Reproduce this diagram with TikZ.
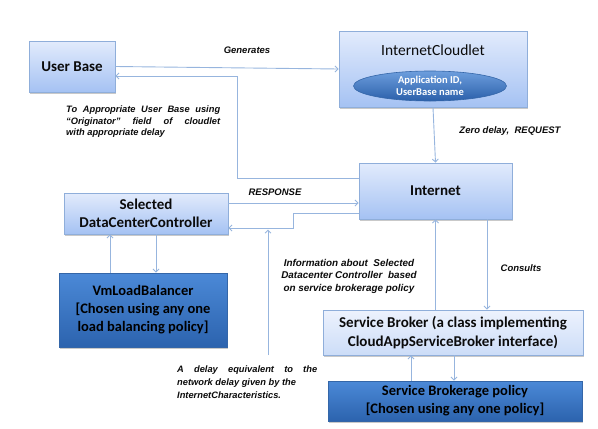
\documentclass[tikz,border=0pt]{standalone}
\usepackage{fontspec}
\setmainfont{Liberation Sans}
\newfontfamily\calib{Carlito}
\usetikzlibrary{arrows.meta,shadows,shapes.geometric}
\definecolor{ink}{HTML}{0B0B0B}
\definecolor{linec}{HTML}{97B5DE}
\definecolor{lborder}{HTML}{8FAEDA}
\definecolor{ltop}{HTML}{E2EBFC}
\definecolor{lbot}{HTML}{A5C2F3}
\definecolor{sbtop}{HTML}{EDF2FD}
\definecolor{sbbot}{HTML}{CCDDF8}
\definecolor{dtop}{HTML}{4B89D7}
\definecolor{dbot}{HTML}{2C63AE}
\definecolor{dborder}{HTML}{3466A8}
\definecolor{etop}{HTML}{6D9EDD}
\definecolor{ebot}{HTML}{2B60AA}
\tikzset{
  box/.style={rectangle,inner sep=0pt,align=center,text=ink,
    drop shadow={shadow xshift=1.2pt,shadow yshift=-1.5pt,opacity=0.3,fill=black!70}},
  lightbox/.style={box,draw=lborder,line width=0.8pt,top color=ltop,bottom color=lbot,
    font=\calib\bfseries\fontsize{15}{18}\selectfont},
  palebox/.style={box,draw=lborder,line width=0.8pt,top color=sbtop,bottom color=sbbot,
    font=\calib\bfseries\fontsize{15}{19}\selectfont},
  darkbox/.style={box,draw=dborder,line width=0.8pt,top color=dtop,bottom color=dbot},
  darktext/.style={inner sep=0pt,align=center,text=black,
    font=\calib\bfseries\fontsize{14.5}{18}\selectfont},
  conn/.style={draw=linec,line width=0.9pt,-{Straight Barb[length=3pt,width=6pt]}},
  lbl/.style={inner sep=0pt,text=ink,font=\bfseries\itshape\fontsize{9.5}{12.5}\selectfont},
}
\begin{document}
\begin{tikzpicture}[x=1pt,y=-1pt]
\useasboundingbox (0,0) rectangle (598,429);
% boxes
\node[lightbox,minimum width=86pt,minimum height=51pt] (ub) at (72,66.5) {User Base};
\node[lightbox,minimum width=188pt,minimum height=76pt] (cloud) at (433,69) {};
\node[inner sep=0pt,text=ink,font=\calib\fontsize{15.5}{18}\selectfont] (cloudtitle) at (433,50) {InternetCloudlet};
\node[ellipse,draw=dborder,line width=0.6pt,top color=etop,bottom color=ebot,
      minimum width=153pt,minimum height=30pt,inner sep=0pt,align=center,text=white,
      font=\calib\bfseries\fontsize{10.5}{12.5}\selectfont] (app) at (430,86) {Application ID,\\UserBase name};
\node[lightbox,minimum width=153pt,minimum height=56pt] (inet) at (435.5,191) {Internet};
\node[lightbox,minimum width=164pt,minimum height=41pt] (dcc) at (146,213.5) {Selected\\DataCenterController};
\node[darkbox,minimum width=168pt,minimum height=74pt] (vmlb) at (143,310) {};
\node[darktext] (vmlbtext) at (vmlb.center) {VmLoadBalancer\\{[}Chosen using any one\\load balancing policy{]}};
\node[palebox,minimum width=260pt,minimum height=45pt] (sb) at (453,332.5) {Service Broker (a class implementing\\CloudAppServiceBroker interface)};
\node[darkbox,minimum width=254pt,minimum height=40pt] (sbp) at (455,401) {};
\node[darktext] (sbptext) at (sbp.center) {Service Brokerage policy\\{[}Chosen using any one policy{]}};
% connectors
\draw[conn] (ub.east) -- (cloud.west);
\draw[conn] (inet.west |- 0,178) -| (237,76) -- (ub.east |- 0,76);
\draw[conn] (cloud.south) -- (inet.north);
\draw[conn] (dcc.east |- 0,203) -- (inet.west |- 0,203);
\draw[conn] (inet.west |- 0,213) -| (293,228) -- (dcc.east |- 0,228);
\coordinate (dstart) at (268,355);
\coordinate (dend) at (268,229.5);
\draw[conn] (dstart) -- (dend);
\draw[conn] (sb.north -| inet.south) -- (inet.south);
\draw[conn] (inet.south -| 487,0) -- (sb.north -| 487,0);
\draw[conn] (vmlb.north -| 110,0) -- (dcc.south -| 110,0);
\draw[conn] (dcc.south -| 156,0) -- (vmlb.north -| 156,0);
\draw[conn] (sbp.north -| 411,0) -- (sb.south -| 411,0);
\draw[conn] (sb.south -| 454,0) -- (sbp.north -| 454,0);
% labels
\node[lbl] (lgen) at (247,50) {Generates};
\node[lbl] (lzero) at (510,131) {Zero delay,\ \ REQUEST};
\node[lbl] (lresp) at (275,192) {RESPONSE};
\node[lbl] (lcons) at (521,268) {Consults};
\node[lbl,anchor=north west,align=left,font=\bfseries\itshape\fontsize{9.3}{11.5}\selectfont] (lorig) at (66,106)
  {\makebox[154pt][s]{To Appropriate User Base using}\\
   \makebox[154pt][s]{“Originator” field of cloudlet}\\
   with appropriate delay};
\node[lbl,align=center,font=\bfseries\itshape\fontsize{9.9}{12.5}\selectfont] (linfo) at (349,276)
  {Information about\ \ Selected\\Datacenter Controller\ \ based\\on service brokerage policy};
\node[lbl,anchor=north west,align=left,font=\bfseries\itshape\fontsize{9.3}{12.8}\selectfont] (ldelay) at (177,366)
  {\makebox[140pt][s]{A delay equivalent to the}\\
   network delay given by the\\
   InternetCharacteristics.};
\end{tikzpicture}
\end{document}
